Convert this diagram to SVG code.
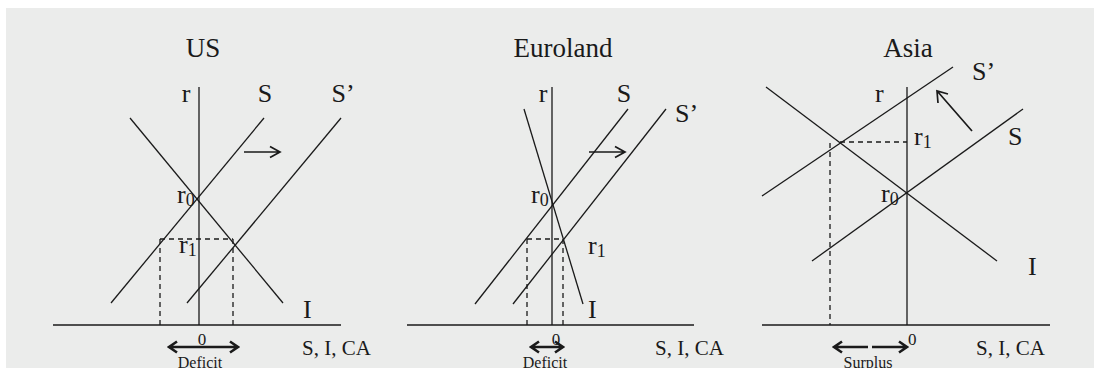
<svg xmlns="http://www.w3.org/2000/svg" width="1095" height="368" viewBox="0 0 1095 368">
<style>
.ln{stroke:#1a1a1a;stroke-width:1.3;fill:none}
.ds{stroke:#1a1a1a;stroke-width:1.3;fill:none;stroke-dasharray:5 4}
.ar{stroke:#1a1a1a;stroke-width:1.7;fill:none}
.da{stroke:#1a1a1a;stroke-width:2.6;fill:none}
.t{font-family:"Liberation Serif","Times New Roman",serif;fill:#1a1a1a}
.ttl{font-size:27px}
.big{font-size:26px}
.sub{font-size:18px}
.ax{font-size:21px}
.sm{font-size:17px}
.xs{font-size:16px}
</style>
<rect x="0" y="0" width="1095" height="368" fill="#ffffff"/>
<rect x="6" y="8" width="1088" height="360" fill="#ebeceb"/>

<g id="us">
<text class="t ttl" x="203" y="57" text-anchor="middle">US</text>
<line class="ln" x1="53" y1="325" x2="341" y2="325"/>
<line class="ln" x1="199" y1="87" x2="199" y2="325"/>
<line class="ln" x1="130" y1="118" x2="283" y2="303"/>
<line class="ln" x1="111" y1="303" x2="264" y2="118"/>
<line class="ln" x1="187" y1="303" x2="341" y2="118"/>
<line class="ds" x1="160" y1="239" x2="233" y2="239"/>
<line class="ds" x1="160" y1="239" x2="160" y2="325"/>
<line class="ds" x1="233" y1="239" x2="233" y2="325"/>
<path class="ar" d="M244 152 H279 M270 146.5 L280 152 L270 157.5"/>
<text class="t big" x="186" y="102" text-anchor="middle">r</text>
<text class="t big" x="265" y="102" text-anchor="middle">S</text>
<text class="t big" x="343" y="102" text-anchor="middle">S’</text>
<text class="t big" x="177" y="203">r<tspan class="sub" dy="3">0</tspan></text>
<text class="t big" x="179" y="253">r<tspan class="sub" dy="3">1</tspan></text>
<text class="t big" x="303" y="318">I</text>
<text class="t sm" x="202" y="345" text-anchor="middle">0</text>
<path class="da" d="M170 347 H237 M177 341.5 L169 347 L177 352.5 M230 341.5 L238 347 L230 352.5"/>
<text class="t xs" x="200" y="368" text-anchor="middle">Deficit</text>
<text class="t ax" x="302" y="355">S, I, CA</text>
</g>

<g id="euroland">
<text class="t ttl" x="563" y="57" text-anchor="middle">Euroland</text>
<line class="ln" x1="407" y1="325" x2="694" y2="325"/>
<line class="ln" x1="552" y1="87" x2="552" y2="325"/>
<line class="ln" x1="524" y1="109" x2="583" y2="304"/>
<line class="ln" x1="475" y1="304" x2="628" y2="109"/>
<line class="ln" x1="513" y1="304" x2="666" y2="109"/>
<line class="ds" x1="527" y1="239" x2="563" y2="239"/>
<line class="ds" x1="527" y1="239" x2="527" y2="325"/>
<line class="ds" x1="563" y1="239" x2="563" y2="325"/>
<path class="ar" d="M589 152 H624 M615 146.5 L625 152 L615 157.5"/>
<text class="t big" x="543" y="102" text-anchor="middle">r</text>
<text class="t big" x="624" y="102" text-anchor="middle">S</text>
<text class="t big" x="675" y="122">S’</text>
<text class="t big" x="531" y="203">r<tspan class="sub" dy="3">0</tspan></text>
<text class="t big" x="588" y="254">r<tspan class="sub" dy="3">1</tspan></text>
<text class="t big" x="588" y="318">I</text>
<text class="t sm" x="556" y="345" text-anchor="middle">0</text>
<path class="da" d="M532 347 H562 M539 341.5 L531 347 L539 352.5 M555 341.5 L563 347 L555 352.5"/>
<text class="t xs" x="545" y="368" text-anchor="middle">Deficit</text>
<text class="t ax" x="655" y="355">S, I, CA</text>
</g>

<g id="asia">
<text class="t ttl" x="908" y="57" text-anchor="middle">Asia</text>
<line class="ln" x1="762" y1="325" x2="1050" y2="325"/>
<line class="ln" x1="907" y1="87" x2="907" y2="325"/>
<line class="ln" x1="762" y1="196" x2="953" y2="67"/>
<line class="ln" x1="812" y1="261" x2="1023" y2="109"/>
<line class="ln" x1="766" y1="87" x2="997" y2="261"/>
<line class="ds" x1="840" y1="142" x2="907" y2="142"/>
<line class="ds" x1="830" y1="143" x2="830" y2="325"/>
<path class="ar" d="M972 131 L938 92 M938 103 L937 91 L948 94"/>
<text class="t big" x="875" y="102">r</text>
<text class="t big" x="972" y="80">S’</text>
<text class="t big" x="1008" y="145">S</text>
<text class="t big" x="1028" y="275">I</text>
<text class="t big" x="914" y="145">r<tspan class="sub" dy="3">1</tspan></text>
<text class="t big" x="881" y="202">r<tspan class="sub" dy="3">0</tspan></text>
<text class="t sm" x="908" y="345">0</text>
<path class="da" d="M835 347 H868 M842 341.5 L834 347 L842 352.5 M872 347 H906 M899 341.5 L907 347 L899 352.5"/>
<text class="t xs" x="868" y="368" text-anchor="middle">Surplus</text>
<text class="t ax" x="976" y="355">S, I, CA</text>
</g>
</svg>
